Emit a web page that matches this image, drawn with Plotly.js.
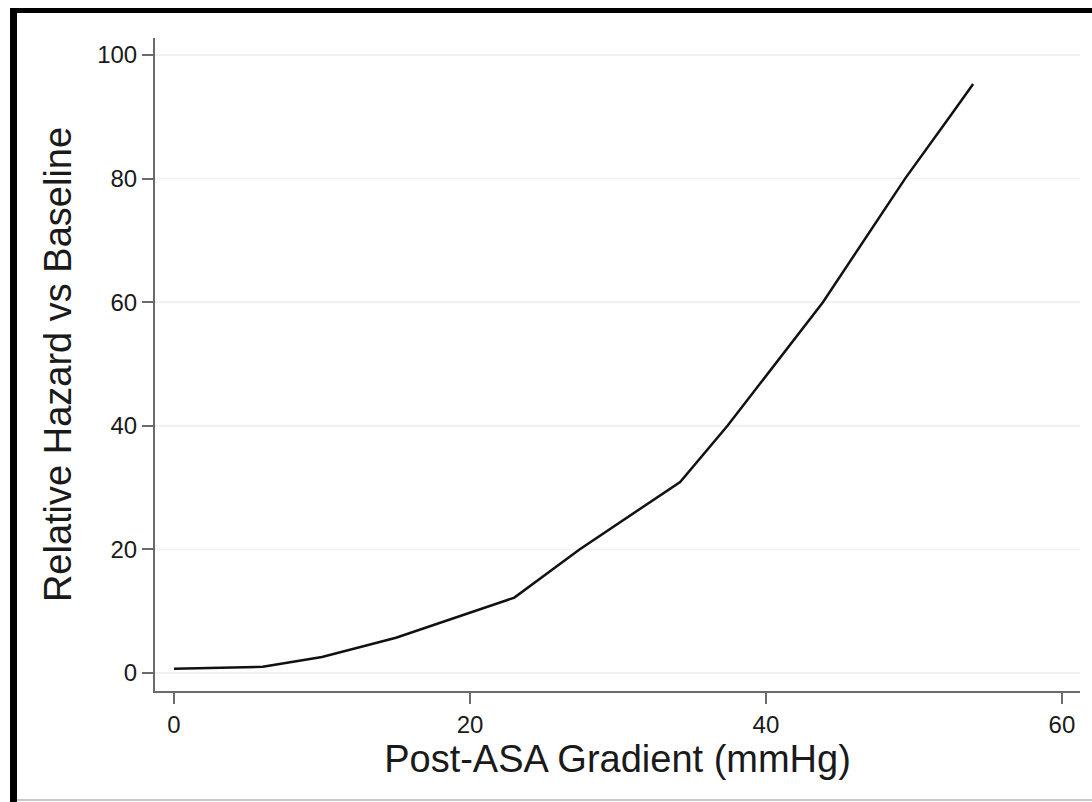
<!DOCTYPE html>
<html>
<head>
<meta charset="utf-8">
<script src="https://cdn.plot.ly/plotly-3.0.1.min.js"></script>
<style>
  html, body { margin: 0; padding: 0; background: #ffffff; }
  #chart { width: 1092px; height: 802px; }
</style>
</head>
<body>
<div id="chart"></div>
<script>
// Data
const gradient = [0, 6, 10, 15, 23, 27.4, 34.2, 37.4, 43.85, 49.4, 52.6, 54];
const relHazard = [0.7, 1.0, 2.6, 5.7, 12.2, 20, 30.9, 40, 60, 80, 90.6, 95.3];
const xTicks = [0, 20, 40, 60];
const yTicks = [0, 20, 40, 60, 80, 100];

const W = 1092, H = 802;
const M = { l: 155, r: 12, t: 38, b: 111 };
const pw = W - M.l - M.r, ph = H - M.t - M.b;
const px = v => (v - M.l) / pw;
const py = v => (H - M.b - v) / ph;

const trace = {
  x: gradient,
  y: relHazard,
  type: 'scatter',
  mode: 'lines',
  line: { color: '#111111', width: 2.5 },
  hoverinfo: 'skip'
};

const font = { family: '"Liberation Sans", Arial, Helvetica, sans-serif', color: '#1a1a1a' };

const layout = {
  width: W,
  height: H,
  margin: M,
  paper_bgcolor: '#ffffff',
  plot_bgcolor: '#ffffff',
  showlegend: false,
  font: font,
  xaxis: {
    range: [-1.284, 61.22],
    tickvals: xTicks,
    ticktext: xTicks.map(String),
    ticks: 'outside',
    ticklen: 11,
    tickwidth: 2,
    tickcolor: '#6a6a6a',
    showline: true,
    linecolor: '#6a6a6a',
    linewidth: 2,
    showgrid: false,
    zeroline: false,
    tickfont: { family: font.family, size: 24, color: '#1a1a1a' },
    title: { text: 'Post-ASA Gradient (mmHg)', font: { family: font.family, size: 38, color: '#1a1a1a' }, standoff: 8 }
  },
  yaxis: {
    range: [-2.91, 102.75],
    tickvals: yTicks,
    ticktext: yTicks.map(String),
    ticks: 'outside',
    ticklen: 11,
    tickwidth: 2,
    tickcolor: '#6a6a6a',
    showline: true,
    linecolor: '#6a6a6a',
    linewidth: 2,
    showgrid: true,
    gridcolor: '#eef2f2',
    gridwidth: 1.5,
    zeroline: false,
    tickfont: { family: font.family, size: 24, color: '#1a1a1a' },
    title: { text: 'Relative Hazard vs Baseline', font: { family: font.family, size: 38, color: '#1a1a1a' }, standoff: 14 }
  },
  shapes: [
    // outer frame (left thick black, top thick black, bottom thin grey)
    { type: 'rect', xref: 'paper', yref: 'paper', x0: px(10), x1: px(17), y0: py(802), y1: py(8),
      fillcolor: '#000000', line: { width: 0 }, layer: 'above' },
    { type: 'rect', xref: 'paper', yref: 'paper', x0: px(10), x1: px(1092), y0: py(13), y1: py(8),
      fillcolor: '#000000', line: { width: 0 }, layer: 'above' },
    { type: 'rect', xref: 'paper', yref: 'paper', x0: px(17), x1: px(1092), y0: py(801), y1: py(799),
      fillcolor: '#c8c8c8', line: { width: 0 }, layer: 'above' }
  ]
};

Plotly.newPlot('chart', [trace], layout, { displayModeBar: false, staticPlot: true });
</script>
</body>
</html>
